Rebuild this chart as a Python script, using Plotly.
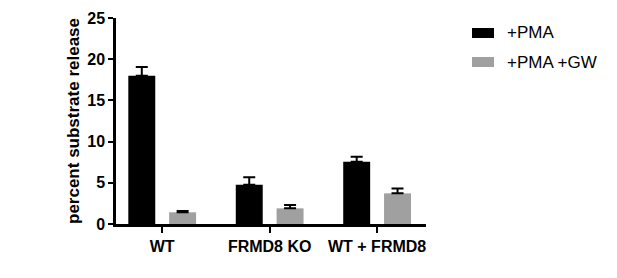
import plotly.graph_objects as go

categories = ["WT", "FRMD8 KO", "WT + FRMD8"]
pma = [18.0, 4.75, 7.55]
pma_err = [1.05, 0.93, 0.6]
pma_gw = [1.42, 1.9, 3.72]
pma_gw_err = [0.15, 0.4, 0.6]
series_names = ["+PMA", "+PMA +GW"]
colors = ["#000000", "#a0a0a0"]
yticks = [0, 5, 10, 15, 20, 25]

FONT = "Liberation Sans, Arial, sans-serif"

# page body has an 8px margin; work in screen pixels and shift
OFF = 8
W, H = 617 - 2 * OFF, 278 - 2 * OFF
plot_left, plot_right, plot_top, plot_bottom = 116, 426, 18, 224  # screen px
ml, mt = plot_left - OFF, plot_top - OFF
mr = W - (plot_right - OFF)
mb = H - (plot_bottom - OFF)
pw, ph = W - ml - mr, H - mt - mb

def px_x(x):
    return (x - OFF - ml) / pw

def px_y(y):
    return 1 - (y - OFF - mt) / ph

fig = go.Figure()
for name, vals, errs, col in [(series_names[0], pma, pma_err, colors[0]),
                              (series_names[1], pma_gw, pma_gw_err, colors[1])]:
    fig.add_trace(go.Bar(
        x=categories, y=vals, name=name, marker=dict(color=col, line=dict(width=0)),
        error_y=dict(type="data", array=errs, arrayminus=[0] * len(errs), symmetric=False,
                     color="#000000", thickness=2, width=6),
        showlegend=False,
    ))

# manual legend (box + text)
shapes = []
annotations = []
for i, (name, col) in enumerate(zip(series_names, colors)):
    cy = 33 + i * 29
    shapes.append(dict(type="rect", xref="paper", yref="paper",
                       x0=px_x(472), x1=px_x(494), y0=px_y(cy + 5), y1=px_y(cy - 5),
                       fillcolor=col, line=dict(width=0)))
    annotations.append(dict(xref="paper", yref="paper", x=px_x(505), y=px_y(cy),
                            text=name, showarrow=False, xanchor="left", yanchor="middle",
                            font=dict(family=FONT, size=17, color="#000000")))

fig.update_layout(
    width=W, height=H, autosize=False,
    margin=dict(l=ml, r=mr, t=mt, b=mb, pad=0),
    paper_bgcolor="white", plot_bgcolor="white",
    barmode="group", bargap=0.24, bargroupgap=0.34,
    shapes=shapes, annotations=annotations,
    font=dict(family=FONT, color="#000000"),
)
fig.update_xaxes(
    range=[-0.43, 2.455], showline=True, linecolor="#000000", linewidth=2.5,
    ticks="outside", ticklen=6, tickwidth=2, tickcolor="#000000", automargin=False,
    tickfont=dict(family=FONT, size=16, color="#000000", weight="bold"),
    showgrid=False, zeroline=False,
)
fig.update_yaxes(
    range=[0, 25], tickvals=yticks, showline=True, linecolor="#000000", linewidth=2.5,
    ticks="outside", ticklen=5, tickwidth=2, tickcolor="#000000", automargin=False,
    tickfont=dict(family=FONT, size=16, color="#000000", weight="bold"),
    showgrid=False, zeroline=False,
    title=dict(text="percent substrate release", standoff=4,
               font=dict(family=FONT, size=17, color="#000000", weight="bold")),
)

fig.write_html("out.html")
